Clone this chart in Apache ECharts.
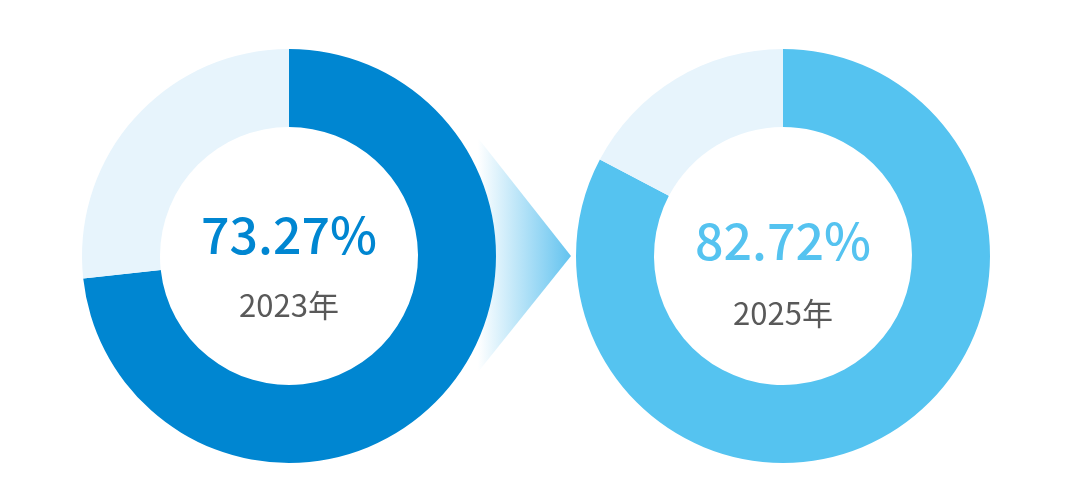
<!DOCTYPE html>
<html>
<head>
<meta charset="utf-8">
<script src="https://cdn.jsdelivr.net/npm/echarts@6/dist/echarts.min.js"></script>
<style>
html,body{margin:0;padding:0;background:#fff;}
#chart{width:1080px;height:499px;}
</style>
</head>
<body>
<div id="chart"></div>
<script>
var years = ['2023年', '2025年'];
var rates = [73.27, 82.72];
var mainColors = ['#0086D1', '#55C3F0'];
var trackColor = '#E7F4FC';

var chart = echarts.init(document.getElementById('chart'), null, {renderer: 'canvas'});

var centers = [[289, 256], [783, 256]];
var pctY = [235, 241];
var yearY = [305, 313];

var series = rates.map(function (v, i) {
  return {
    type: 'pie',
    center: centers[i],
    radius: [129, 207],
    startAngle: 90,
    clockwise: true,
    silent: true,
    label: {show: false},
    labelLine: {show: false},
    itemStyle: {borderWidth: 0},
    emphasis: {disabled: true},
    animation: false,
    data: [
      {value: v, name: years[i], itemStyle: {color: mainColors[i]}},
      {value: +(100 - v).toFixed(2), name: 'rest', itemStyle: {color: trackColor}}
    ]
  };
});

var texts = [];
rates.forEach(function (v, i) {
  texts.push({
    type: 'text', z: 10,
    style: {
      x: centers[i][0], y: pctY[i],
      text: v.toFixed(2) + '%',
      fill: mainColors[i],
      font: '500 50px "Noto Sans CJK SC", "Noto Sans", sans-serif',
      align: 'center', verticalAlign: 'middle'
    }
  });
  texts.push({
    type: 'text', z: 10,
    style: {
      x: centers[i][0], y: yearY[i],
      text: years[i],
      fill: '#595959',
      font: '31px "Noto Sans CJK SC", "Noto Sans", sans-serif',
      align: 'center', verticalAlign: 'middle'
    }
  });
});

texts.push({
  type: 'polygon', z: -1,
  shape: {points: [[478, 138], [571, 256], [478, 372]]},
  style: {
    fill: new echarts.graphic.LinearGradient(0, 0, 1, 0, [
      {offset: 0, color: 'rgba(255,255,255,1)'},
      {offset: 1, color: '#63C3EF'}
    ])
  }
});

chart.setOption({
  backgroundColor: '#ffffff',
  animation: false,
  series: series,
  graphic: texts
});
</script>
</body>
</html>
